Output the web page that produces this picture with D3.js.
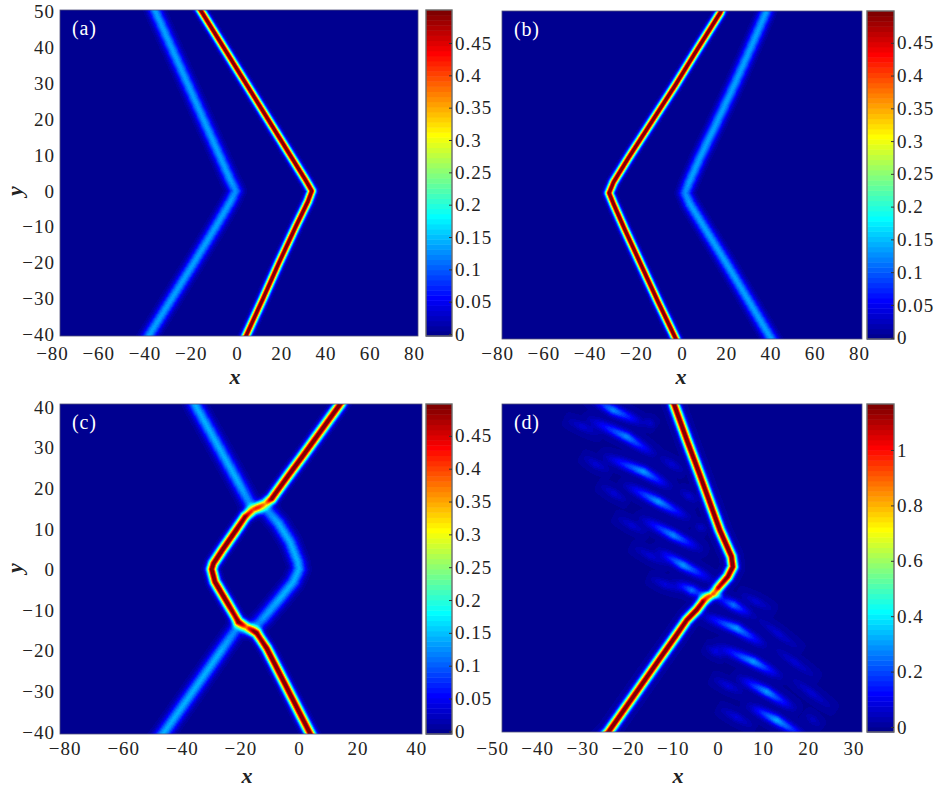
<!DOCTYPE html>
<html>
    <head>
        <meta charset="utf-8">
        <title>Soliton intensity panels</title>
        <script src="https://d3js.org/d3.v7.min.js"></script>
        <style>
            body { margin: 0; background: #fff; }
            svg { display: block; }
            text { font-family: "Liberation Serif", serif; fill: #222; }
            .num { font-size: 19px; letter-spacing: 1px; }
            .title { font-size: 22px; font-style: italic; font-weight: bold; }
            .tag { font-size: 20px; fill: #fff; letter-spacing: .8px; }
        </style>
    </head>
    <body>
        <script>
            // ridge lines: [x, y, peak value]
            const aBright = [[-18, 52, .53], [-16, 50, .53], [-6, 40, .53], [4, 30, .53], [14, 20, .53], [24, 10, .53], [31, 3, .53], [33.8, 0, .53], [32, -3, .53], [26.5, -10, .53], [19, -20, .53], [11.8, -30, .53], [4.4, -40, .53], [2.9, -42, .53]]
            const aFaint = [[-38, 52, .135], [-36.8, 50, .135], [-29.6, 40, .135], [-22.4, 30, .135], [-15.2, 20, .135], [-8, 10, .135], [-3, 3, .135], [-.6, 0, .125], [-3, -3, .135], [-9.6, -10, .135], [-19.4, -20, .135], [-29.4, -30, .135], [-39.4, -40, .135], [-41.4, -42, .135]]

            const bBright = [[18.5, 52, .53], [17.2, 50, .53], [7, 40, .53], [-3, 30, .53], [-13.5, 20, .53], [-24, 10, .53], [-31, 3, .53], [-33, 0, .53], [-31, -3, .53], [-26, -10, .53], [-18.5, -20, .53], [-11, -30, .53], [-3.2, -40, .53], [-1.7, -42, .53]]
            const bFaint = [[38.8, 52, .135], [37.8, 50, .135], [30.8, 40, .135], [23.6, 30, .135], [16, 20, .135], [8.2, 10, .135], [3.2, 3, .135], [1.4, 0, .125], [3.5, -3, .135], [10.5, -10, .135], [20.5, -20, .135], [30.2, -30, .135], [39.8, -40, .135], [41.8, -42, .135]]

            const cBright = [[15.6, 42.5, .53], [14, 40.7, .53], [7.2, 33.9, .53], [1.1, 27.8, .53], [-3.5, 23.3, .53], [-9.3, 17.5, .52], [-11.6, 16.3, .3], [-15.6, 14.7, .3], [-18.4, 13, .5], [-21.5, 9.7, .53], [-26.2, 4.8, .53], [-29.2, 1.5, .53], [-29.8, .1, .53], [-28.7, -3, .53], [-24.7, -7.9, .53], [-20.7, -12.8, .48], [-17.9, -14.1, .28], [-14.4, -15.7, .48], [-11, -19.4, .53], [-5.2, -27.6, .53], [0, -35, .53], [3.8, -40.4, .53], [5, -42, .53]]
            const cFaint = [[-36.5, 42.5, .14], [-35.5, 40.7, .14], [-27.8, 30.7, .14], [-20.8, 21.6, .14], [-16.2, 15.5, .12], [-11, 14.7, .12], [-7, 11.4, .14], [-3.1, 6.9, .14], [-.4, 1.9, .14], [0, .1, .14], [-1.9, -3, .14], [-6.5, -7.1, .14], [-12.2, -12, .13], [-15.6, -14.5, .1], [-21.3, -14.5, .12], [-26.8, -20.2, .14], [-33.9, -27.6, .14], [-46.3, -40.4, .14], [-48, -42, .14]]

            const dMain = [[-10.3, 42, 1.24], [-9.7, 39.9, 1.24], [-7, 31.6, 1.24], [-4, 22.7, 1.24], [-1.6, 15.4, 1.24], [.4, 9.3, 1.24], [3, 2.8, 1.24], [3.3, .3, 1.24], [2.2, -2.1, 1.2], [0, -4.9, 1.1], [-1.4, -6.6, .45], [-3.3, -8.2, 1.15], [-4.7, -10.2, 1.22], [-6.9, -12.7, 1.2], [-9.4, -16.7, 1.24], [-12.8, -22, 1.24], [-18.5, -31, 1.24], [-24.3, -40.1, 1.24], [-26, -42, 1.24]]
            const dCross = [[-4.5, -6.6, 0], [-1.4, -6.6, .4], [1.5, -6.9, 0]]
            const dStripes = [
                [[-28, 41.5, .04], [-23.2, 38.5, .28], [-17, 35.5, .04]],
                [[-28, 36, .04], [-20.2, 32, .28], [-14.5, 28, .04]],
                [[-24.5, 27, .04], [-16.5, 23.5, .3], [-11, 20, .04]],
                [[-20, 20, .04], [-13.2, 16.2, .3], [-7, 12.5, .04]],
                [[-16.5, 11.8, .04], [-9.9, 8, .28], [-4.2, 4.8, .04]],
                [[-13, 4, .04], [-7.7, .7, .3], [-1.5, -2.8, .04]],
                [[-9.5, -3.6, .03], [-5.8, -5.4, .25], [-2.4, -7, .03]],
                [[-.6, -6.9, .03], [3.4, -9, .25], [7.5, -11.5, .03]],
                [[-3, -11.7, .04], [4.1, -14.7, .3], [10, -18.6, .04]],
                [[.4, -19.3, .04], [7.8, -22.8, .3], [13.5, -26.2, .04]],
                [[5, -27, .04], [10.8, -30.2, .3], [16.5, -34, .04]],
                [[7.2, -33.8, .04], [13, -37.1, .32], [19.5, -41.5, .04]]
            ]
            const dTails = [
                [[-34.2, 36.5, 0], [-30, 34.5, .07], [-25.4, 32, 0]],
                [[-30.5, 27.6, 0], [-27, 25.3, .07], [-23.2, 23.1, 0]],
                [[-26.8, 20.7, 0], [-23, 18.2, .07], [-19.5, 15.8, 0]],
                [[-23.2, 12.9, 0], [-19, 10.4, .07], [-15, 8, 0]],
                [[-19.5, 5.6, 0], [-15, 3, .07], [-10.6, .3, 0]],
                [[-15.8, -2.1, 0], [-11.7, -4, .08], [-7.7, -5.8, 0]],
                [[-16.5, 36.5, 0], [-15, 35.3, .06], [-13.6, 34.1, 0]],
                [[-13.6, 27.6, 0], [-10.2, 25.3, .07], [-6.9, 23.1, 0]],
                [[-9.1, 19.4, 0], [-6.5, 17.6, .07], [-4, 15.8, 0]],
                [[-5.5, 10.9, 0], [-3.8, 9.9, .06], [-2.1, 8.9, 0]],
                [[4.1, -5.8, 0], [8.5, -8.2, .07], [13, -10.7, 0]],
                [[7.8, -11.5, 0], [13.3, -16, .07], [18.9, -20.4, 0]],
                [[11.5, -18.8, 0], [17, -23, .07], [22.6, -27.3, 0]],
                [[15.2, -26.1, 0], [20.7, -30.5, .07], [26.3, -35, 0]],
                [[18.9, -35, 0], [21, -37, .05], [23.3, -39.1, 0]],
                [[-3.2, -18.8, 0], [-.6, -20.4, .08], [1.9, -22, 0]],
                [[-1.8, -26.5, 0], [2.2, -28.7, .08], [6.3, -31, 0]],
                [[-.3, -33.8, 0], [4.1, -36.4, .08], [8.6, -39.1, 0]]
            ]

            const xTicksWide = [-80, -60, -40, -20, 0, 20, 40, 60, 80]
            const xTicksC = [-80, -60, -40, -20, 0, 20, 40]
            const xTicksD = [-50, -40, -30, -20, -10, 0, 10, 20, 30]
            const yTicksTall = [50, 40, 30, 20, 10, 0, -10, -20, -30, -40]
            const yTicksC = [40, 30, 20, 10, 0, -10, -20, -30, -40]
            const barTicks = [0, .05, .1, .15, .2, .25, .3, .35, .4, .45]
            const barTicksD = [0, .2, .4, .6, .8, 1]

            const panels = [
                { tag: '(a)', left: 60, right: 418, top: 10, bottom: 336, xDom: [-80, 81.8], yDom: [50.5, -40.5],
                  barL: 426, barR: 452, barDom: [-.003, .501], barTicks, xTicks: xTicksWide, yTicks: yTicksTall, negShift: .1,
                  xBase: 360, titleX: 235, titleY: 384, yTitleY: 191,
                  ridges: [[aBright, 2.7], [aFaint, 4.4]] },
                { tag: '(b)', left: 502, right: 862, top: 11, bottom: 339, xDom: [-81.4, 81.3], yDom: [50.5, -40.5],
                  barL: 867, barR: 894, barDom: [-.002, .4985], barTicks, xTicks: xTicksWide, negShift: .1,
                  xBase: 360, titleX: 681, titleY: 384,
                  ridges: [[bBright, 2.7], [bFaint, 4.4]] },
                { tag: '(c)', left: 60, right: 422, top: 404, bottom: 734, xDom: [-81.6, 42], yDom: [40.8, -40.5],
                  barL: 426, barR: 452, barDom: [-.004, .4985], barTicks, xTicks: xTicksC, yTicks: yTicksC, negShift: 0,
                  xBase: 755, titleX: 247, titleY: 783, yTitleY: 568,
                  ridges: [[cBright, 3.3], [cFaint, 4.8]] },
                { tag: '(d)', left: 502, right: 862, top: 404, bottom: 732, xDom: [-47.8, 31.9], yDom: [40, -40],
                  barL: 867, barR: 894, barDom: [-.018, 1.166], barTicks: barTicksD, xTicks: xTicksD, negShift: 0,
                  xBase: 755, titleX: 678, titleY: 783,
                  ridges: [[dMain, 3.2], [dCross, 2.6]]
                      .concat(dStripes.map(s => [s, 3.6]))
                      .concat(dTails.map(s => [s, 3.2])) }
            ]

            // matlab jet, 64 levels
            const jet = d3.scaleLinear()
                .domain([0, .125, .375, .625, .875, 1])
                .range(['#000080', '#0000ff', '#00ffff', '#ffff00', '#ff0000', '#800000'])
            const jet64 = d3.range(64).map(i => jet((i + 1) / 64))

            const svg = d3.select('body').append('svg')
                .attr('width', 938)
                .attr('height', 792)

            // value of one ridge at a pixel: gaussian across the nearest segment
            const ridgeValue = (pts, sigma, px, py) => {
                let best = Infinity, peak = 0
                for (let i = 0; i < pts.length - 1; i++) {
                    const a = pts[i], b = pts[i + 1]
                    const dx = b[0] - a[0], dy = b[1] - a[1]
                    const t = Math.max(0, Math.min(1, ((px - a[0]) * dx + (py - a[1]) * dy) / (dx * dx + dy * dy)))
                    const ex = a[0] + t * dx - px, ey = a[1] + t * dy - py
                    const dist = ex * ex + ey * ey
                    if (dist < best) {
                        best = dist
                        peak = a[2] + t * (b[2] - a[2])
                    }
                }
                return peak * Math.exp(-best / (2 * sigma * sigma))
            }

            const drawPanel = p => {
                const width = p.right - p.left
                const height = p.bottom - p.top
                const xScale = d3.scaleLinear().domain(p.xDom).range([p.left, p.right])
                const yScale = d3.scaleLinear().domain(p.yDom).range([p.top, p.bottom])
                const barScale = d3.scaleLinear().domain(p.barDom).range([p.bottom, p.top])
                const color = d3.scaleQuantize().domain(p.barDom).range(jet64)

                const ridges = p.ridges.map(([pts, sigma]) => ({
                    sigma,
                    pts: pts.map(d => [xScale(d[0]) - p.left, yScale(d[1]) - p.top, d[2]])
                }))

                const canvas = document.createElement('canvas')
                canvas.width = width
                canvas.height = height
                const ctx = canvas.getContext('2d')
                const img = ctx.createImageData(width, height)
                for (let j = 0; j < height; j++) {
                    for (let i = 0; i < width; i++) {
                        let v = 0
                        ridges.forEach(r => { v += ridgeValue(r.pts, r.sigma, i + .5, j + .5) })
                        const c = d3.rgb(color(v))
                        const k = (j * width + i) * 4
                        img.data[k] = c.r
                        img.data[k + 1] = c.g
                        img.data[k + 2] = c.b
                        img.data[k + 3] = 255
                    }
                }
                ctx.putImageData(img, 0, 0)
                // the reference is a soft raster, take the hard level edges off
                ctx.filter = 'blur(0.7px)'
                ctx.drawImage(canvas, 0, 0)
                ctx.filter = 'none'

                svg.append('image')
                    .attr('x', p.left).attr('y', p.top)
                    .attr('width', width).attr('height', height)
                    .attr('href', canvas.toDataURL())
                svg.append('rect')
                    .attr('x', p.left).attr('y', p.top)
                    .attr('width', width).attr('height', height)
                    .attr('fill', 'none').attr('stroke', '#50507a').attr('stroke-width', .8)

                svg.append('text').attr('class', 'tag')
                    .attr('x', p.left + 12).attr('y', p.top + 25)
                    .text(p.tag)

                // x axis
                const xAxis = d3.axisBottom(xScale).tickValues(p.xTicks).tickSize(0).tickPadding(0)
                const xg = svg.append('g').attr('transform', `translate(0, ${p.xBase})`).call(xAxis)
                xg.select('.domain').remove()
                xg.selectAll('text').attr('class', 'num').attr('fill', null)
                    .attr('dx', d => d < 0 ? d * p.negShift : 0)
                    .attr('y', 0).attr('dy', 0)
                svg.append('text').attr('class', 'title')
                    .attr('x', p.titleX).attr('y', p.titleY)
                    .attr('text-anchor', 'middle')
                    .text('x')

                // y axis
                if (p.yTicks) {
                    const yAxis = d3.axisLeft(yScale).tickValues(p.yTicks).tickSize(0).tickPadding(5)
                    const yg = svg.append('g').attr('transform', `translate(${p.left}, 0)`).call(yAxis)
                    yg.select('.domain').remove()
                    yg.selectAll('text').attr('class', 'num').attr('fill', null)
                    svg.append('text').attr('class', 'title')
                        .attr('transform', `translate(22, ${p.yTitleY}) rotate(-90)`)
                        .attr('text-anchor', 'middle')
                        .text('y')
                }

                // colorbar
                const levels = d3.range(64)
                const band = (p.barDom[1] - p.barDom[0]) / 64
                svg.append('g').selectAll('rect')
                    .data(levels).enter()
                    .append('rect')
                        .attr('x', p.barL)
                        .attr('y', d => barScale(p.barDom[0] + (d + 1) * band))
                        .attr('width', p.barR - p.barL)
                        .attr('height', (p.bottom - p.top) / 64 + .5)
                        .attr('fill', d => jet64[d])
                svg.append('rect')
                    .attr('x', p.barL).attr('y', p.top)
                    .attr('width', p.barR - p.barL).attr('height', p.bottom - p.top)
                    .attr('fill', 'none').attr('stroke', '#6a6a6a').attr('stroke-width', 1.4)
                const barAxis = d3.axisRight(barScale).tickValues(p.barTicks)
                    .tickSize(-3).tickPadding(3).tickFormat(d => d)
                const bg = svg.append('g').attr('transform', `translate(${p.barR}, 0)`).call(barAxis)
                bg.select('.domain').remove()
                bg.selectAll('line').attr('stroke', '#333')
                bg.selectAll('text').attr('class', 'num').attr('fill', null)
            }

            panels.forEach(drawPanel)
        </script>
    </body>
</html>
